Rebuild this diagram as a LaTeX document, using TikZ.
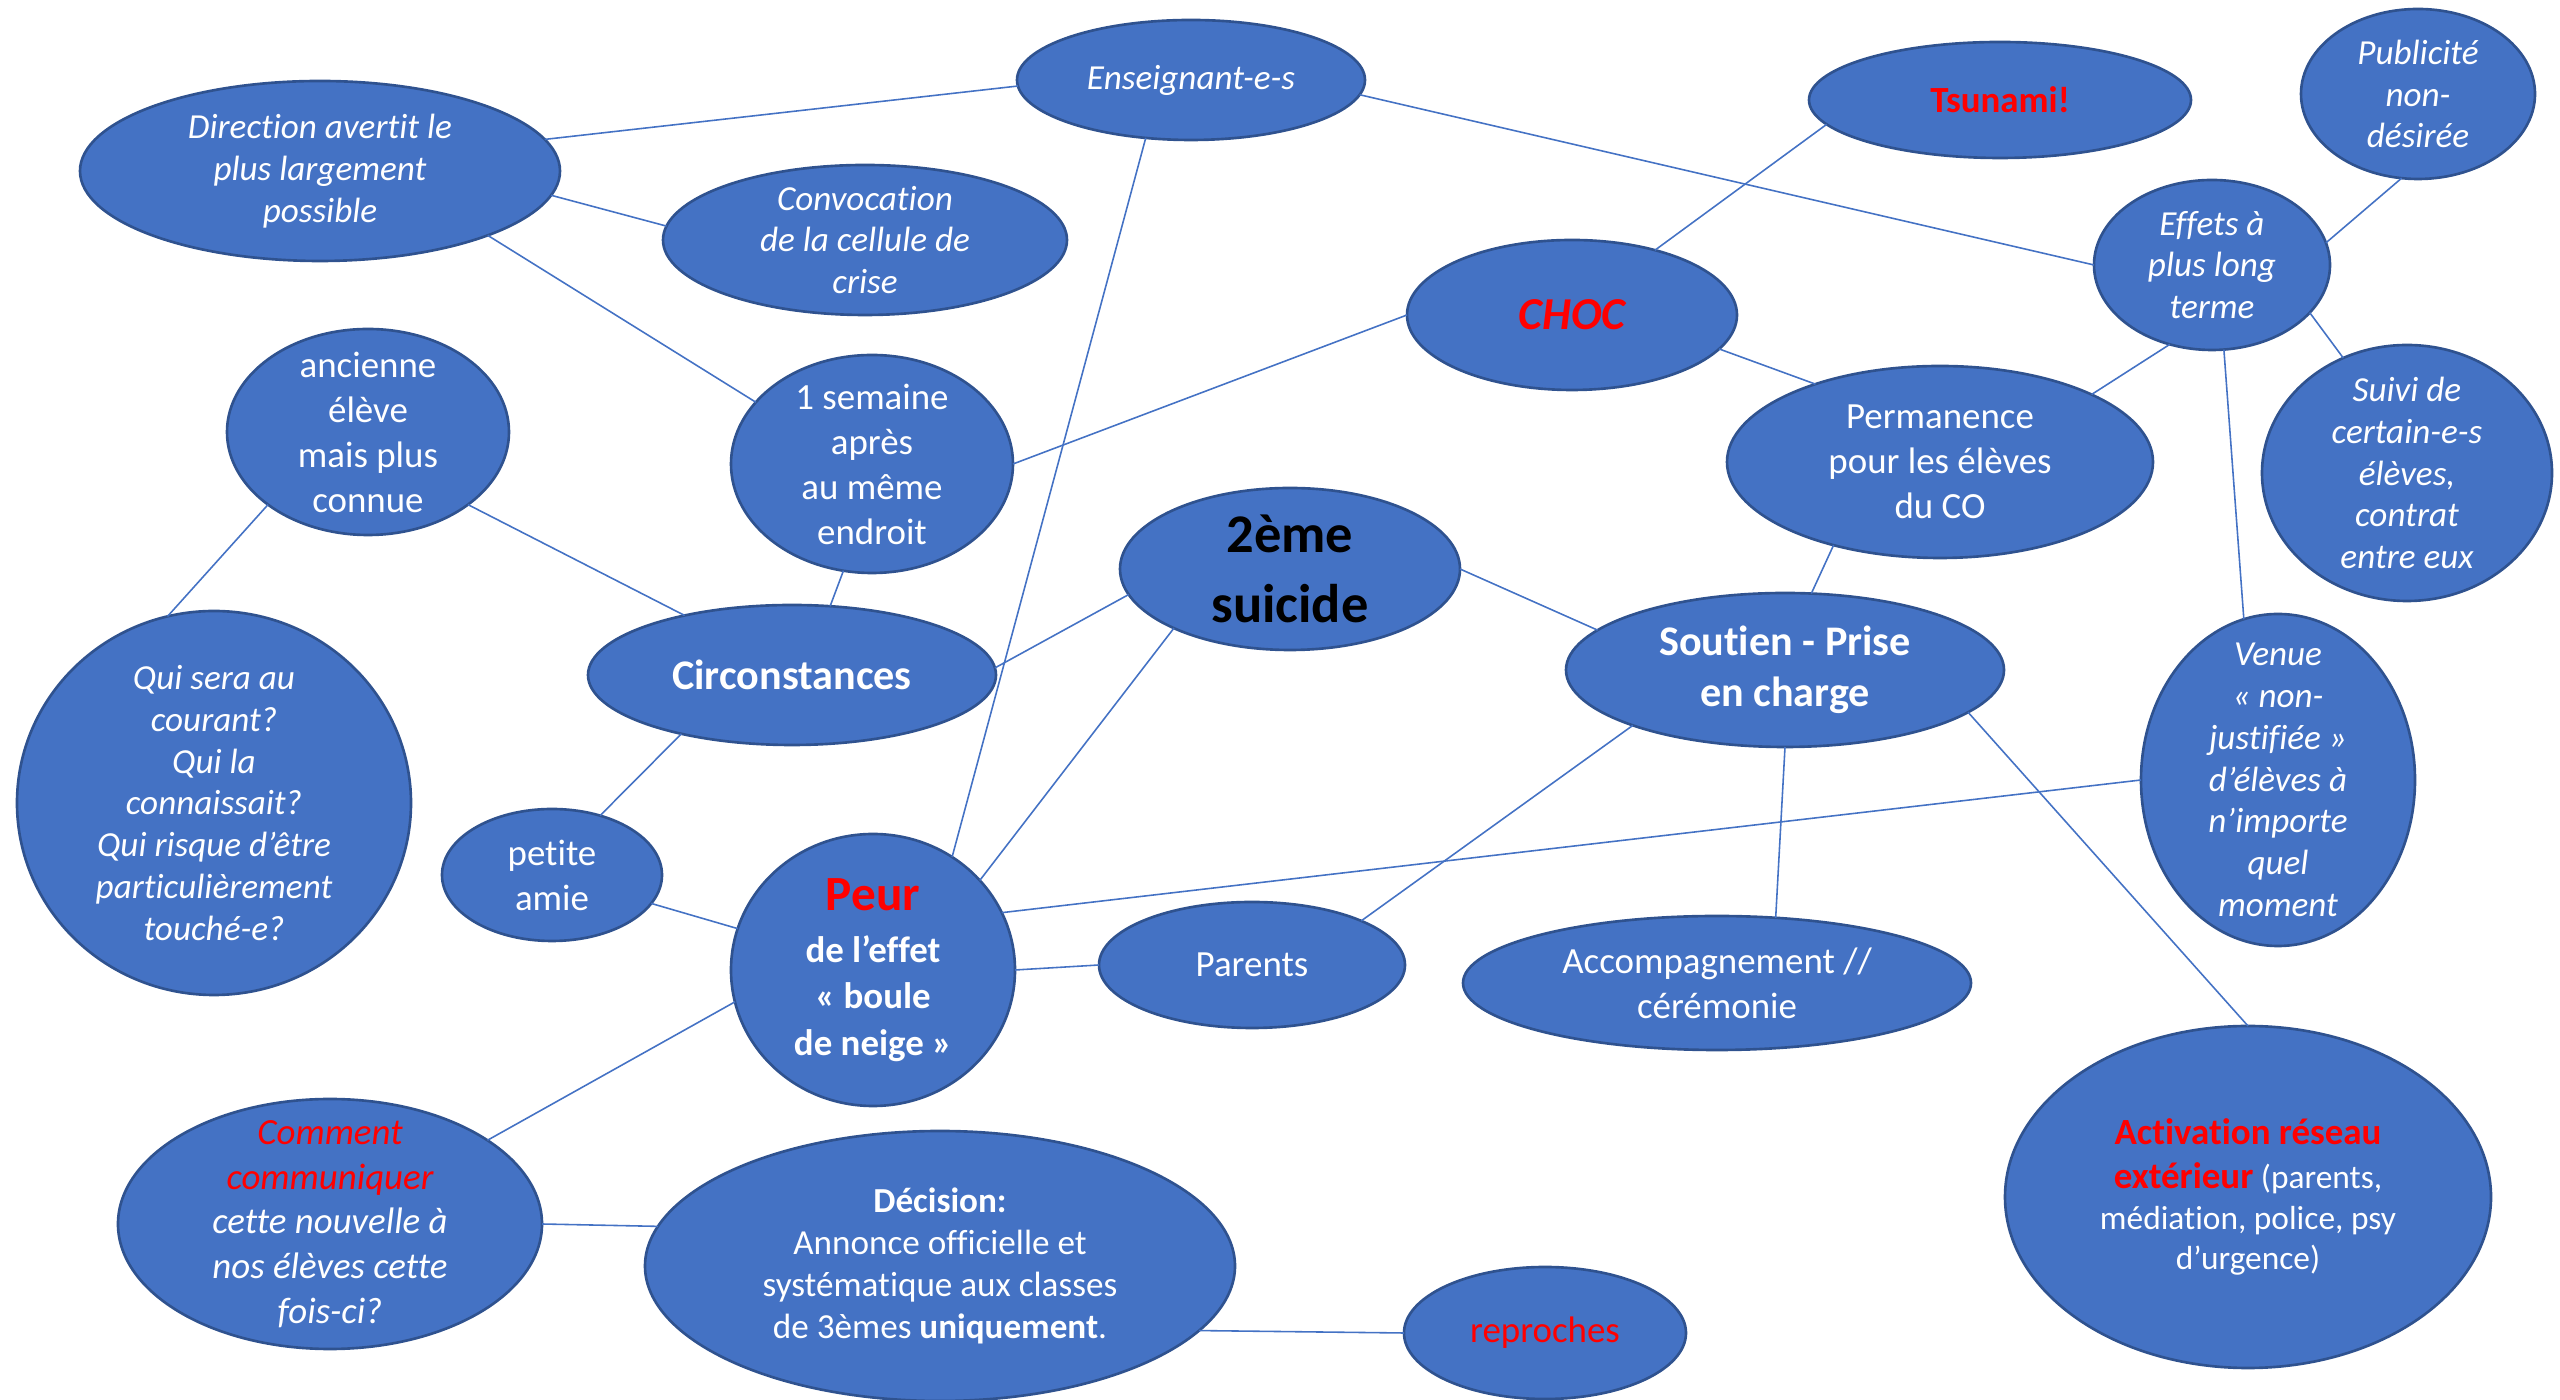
\documentclass[tikz,border=0pt]{standalone}
\usepackage{fontspec}
\setmainfont{Carlito}[Ligatures=NoCommon]
\usetikzlibrary{shapes.geometric}

\definecolor{bubblefill}{HTML}{4472C4}
\definecolor{bubbleline}{HTML}{2F528F}
\definecolor{alarm}{HTML}{FF0000}

\newcommand{\redtxt}[1]{\textcolor{alarm}{#1}}

\begin{document}
\begin{tikzpicture}[
  bubble/.style n args={2}{ellipse, draw=bubbleline, fill=bubblefill, line width=0.75pt,
    minimum width=#1cm, minimum height=#2cm, inner sep=-1cm, outer sep=0pt,
    text=white, align=center, font=\fontsize{10.5}{12.8}\selectfont},
  it/.style={font=\fontsize{10}{11.9}\selectfont\itshape},
  link/.style={draw=bubblefill, line width=0.45pt},
]
\useasboundingbox (0,0) rectangle (25.6,14);

% left part
\node[bubble={4.80}{1.80}, it] (dir) at (3.20,12.29) {Direction avertit le\\plus largement\\possible};
\node[bubble={4.04}{1.50}, it] (conv) at (8.65,11.60) {Convocation\\de la cellule de\\crise};
\node[bubble={2.82}{2.06}] (anc) at (3.68,9.68) {ancienne\\élève\\mais plus\\connue};
\node[bubble={2.82}{2.18}] (sem) at (8.72,9.36) {1 semaine\\après\\au même\\endroit};
\node[bubble={3.94}{3.84}, it] (qui) at (2.14,5.97) {Qui sera au\\courant?\\Qui la\\connaissait?\\Qui risque d’être\\particulièrement\\touché-e?};
\node[bubble={4.08}{1.40}, font=\fontsize{12}{14}\selectfont\bfseries] (circ) at (7.92,7.25) {Circonstances};
\node[bubble={2.20}{1.32}] (pet) at (5.52,5.25) {petite\\amie};
\node[bubble={2.84}{2.72}, font=\fontsize{10.5}{13.2}\selectfont\bfseries] (peur) at (8.73,4.30) {{\fontsize{14}{15}\selectfont\redtxt{Peur}}\\[1.5pt]de l’effet\\« boule\\de neige »};
\node[bubble={4.24}{2.50}, font=\fontsize{10.5}{12.7}\selectfont\itshape] (com) at (3.30,1.76) {\redtxt{Comment}\\\redtxt{communiquer}\\cette nouvelle à\\nos élèves cette\\fois-ci?};
\node[bubble={5.90}{2.70}, font=\fontsize{10}{12}\selectfont] (dec) at (9.40,1.34) {\textbf{Décision:}\\Annonce officielle et\\systématique aux classes\\de 3èmes \textbf{uniquement}.};

% middle part
\node[bubble={3.48}{1.20}, it] (ens) at (11.91,13.20) {Enseignant-e-s};
\node[bubble={3.30}{1.50}, font=\fontsize{13}{15}\selectfont\bfseries\itshape] (choc) at (15.72,10.85) {\redtxt{CHOC}};
\node[bubble={3.40}{1.62}, text=black, font=\fontsize{15.5}{20}\selectfont\bfseries] (sui) at (12.90,8.31) {2ème\\suicide};
\node[bubble={4.38}{1.54}, font=\fontsize{12}{14.5}\selectfont\bfseries] (sout) at (17.85,7.30) {Soutien - Prise\\en charge};
\node[bubble={3.06}{1.26}] (par) at (12.52,4.35) {Parents};
\node[bubble={5.08}{1.34}] (acc) at (17.17,4.17) {Accompagnement //\\cérémonie};
\node[bubble={2.82}{1.32}, text=alarm] (rep) at (15.45,0.67) {reproches};

% right part
\node[bubble={3.82}{1.16}, font=\fontsize{10.5}{12.8}\selectfont\bfseries] (tsu) at (20.00,13.00) {\redtxt{Tsunami!}};
\node[bubble={2.34}{1.70}, it] (pub) at (24.18,13.06) {Publicité\\non-\\désirée};
\node[bubble={2.36}{1.70}, it] (eff) at (22.12,11.35) {Effets à\\plus long\\terme};
\node[bubble={4.26}{1.92}] (perm) at (19.40,9.38) {Permanence\\pour les élèves\\du CO};
\node[bubble={2.90}{2.56}, it] (suivi) at (24.07,9.27) {Suivi de\\certain-e-s\\élèves,\\contrat\\entre eux};
\node[bubble={2.74}{3.32}, it] (venue) at (22.78,6.20) {Venue\\« non-\\justifiée »\\d’élèves à\\n’importe\\quel\\moment};
\node[bubble={4.86}{3.42}, font=\fontsize{9.5}{11.6}\selectfont] (act) at (22.48,2.03) {{\fontsize{10.5}{12.8}\selectfont\bfseries\redtxt{Activation réseau}}\\[1pt]{\fontsize{10.5}{12.8}\selectfont\bfseries\redtxt{extérieur}} (parents,\\médiation, police, psy\\d’urgence)};

% connectors
\draw[link] (dir.8) -- (ens.182);
\draw[link] (dir.-6) -- (conv.176);
\draw[link] (dir.-21) -- (sem.152);
\draw[link] (ens.-5) -- (eff.180);
\draw[link] (ens.-128) -- (peur.55);
\draw[link] (tsu.188) -- (choc.38);
\draw[link] (choc.180) -- (sem.0);
\draw[link] (choc.-13) -- (perm.148);
\draw[link] (pub.259) -- (eff.11);
\draw[link] (eff.242) -- (perm.24);
\draw[link] (eff.-26) -- (suivi.119);
\draw[link] (eff.-82) -- (venue.102);
\draw[link] (perm.218) -- (sout.71);
\draw[link] (sui.0) -- (sout.168);
\draw[link] (sui.189) -- (circ.2);
\draw[link] (sui.207) -- (peur.40);
\draw[link] (anc.-36) -- (circ.151);
\draw[link] (anc.216) -- (qui.104);
\draw[link] (sem.255) -- (circ.61);
\draw[link] (circ.208) -- (pet.51);
\draw[link] (pet.-16) -- (peur.163);
\draw[link] (peur.0) -- (par.180);
\draw[link] (peur.24) -- (venue.180);
\draw[link] (peur.193) -- (com.28);
\draw[link] (com.0) -- (dec.172);
\draw[link] (dec.-14) -- (rep.180);
\draw[link] (sout.200) -- (par.22);
\draw[link] (sout.270) -- (acc.48);
\draw[link] (sout.-13) -- (act.90);

\end{tikzpicture}
\end{document}
